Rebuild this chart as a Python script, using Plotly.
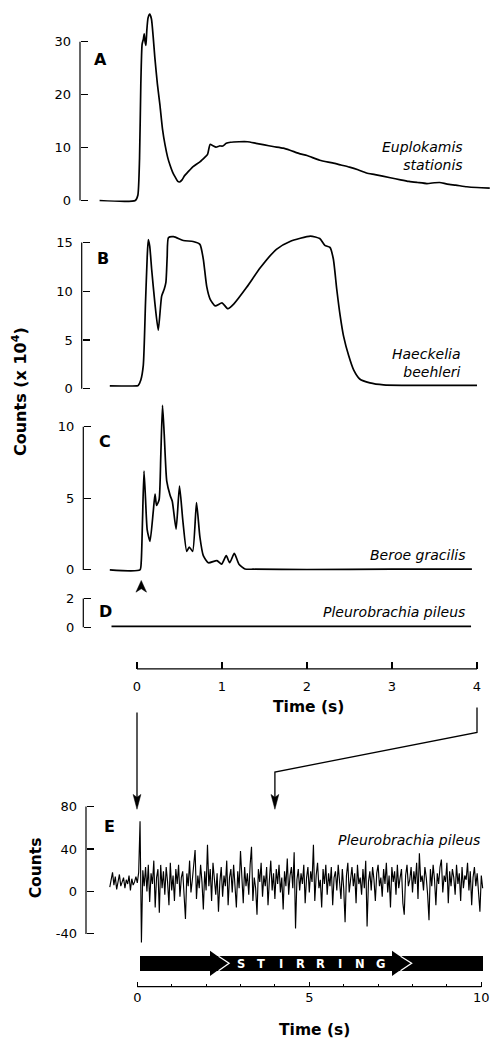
import numpy as np
import plotly.graph_objects as go

W, H = 491, 1042

# ---------------- data ----------------
a_t = [-0.44, -0.02, 0.01, 0.03, 0.045, 0.06, 0.075, 0.085, 0.095, 0.105, 0.115, 0.13, 0.15,
       0.17, 0.19, 0.21, 0.24, 0.27, 0.30, 0.33, 0.36, 0.39, 0.42, 0.45, 0.48, 0.50, 0.53,
       0.56, 0.60, 0.66, 0.74, 0.80, 0.83, 0.86, 0.89, 0.93, 0.97, 1.01, 1.05, 1.10, 1.20,
       1.30, 1.40, 1.50, 1.60, 1.72, 1.80, 1.92, 2.00, 2.15, 2.30, 2.40, 2.50, 2.60, 2.70,
       2.80, 2.98, 3.10, 3.20, 3.30, 3.41, 3.50, 3.56, 3.65, 3.75, 3.88, 4.00, 4.15]
a_v = [0.0, 0.0, 1.0, 8.0, 22.0, 29.5, 30.5, 31.5, 30.0, 29.3, 32.0, 34.5, 35.2,
       34.3, 31.0, 27.0, 22.0, 18.0, 13.5, 10.5, 8.2, 6.6, 5.3, 4.4, 3.6, 3.5, 3.9,
       4.7, 5.4, 6.4, 7.3, 8.2, 8.7, 10.6, 10.4, 10.1, 10.3, 10.3, 10.8, 11.0, 11.1,
       11.1, 10.8, 10.5, 10.2, 9.9, 9.5, 8.8, 8.5, 7.6, 7.1, 6.7, 6.3, 5.8, 5.2,
       4.9, 4.3, 3.9, 3.6, 3.4, 3.2, 3.35, 3.4, 3.1, 2.9, 2.6, 2.45, 2.35]

b_t = [-0.32, 0.00, 0.015, 0.045, 0.074, 0.10, 0.12, 0.133, 0.15, 0.173, 0.21, 0.25, 0.29,
       0.32, 0.34, 0.355, 0.37, 0.43, 0.545, 0.66, 0.74, 0.78, 0.82, 0.86, 0.92, 1.00,
       1.07, 1.14, 1.29, 1.45, 1.64, 1.80, 2.04, 2.15, 2.21, 2.27, 2.31, 2.35, 2.39, 2.43,
       2.49, 2.55, 2.62, 2.74, 2.90, 4.00]
b_v = [0.3, 0.3, 0.35, 0.9, 2.4, 8.8, 13.5, 15.3, 14.6, 12.2, 8.8, 6.0, 9.5,
       10.2, 10.9, 13.5, 15.5, 15.6, 15.2, 15.1, 14.8, 13.3, 10.5, 9.2, 8.5, 8.8,
       8.2, 8.7, 10.4, 12.4, 14.3, 15.1, 15.65, 15.4, 14.7, 14.5, 13.3, 10.2, 7.5, 5.4,
       3.4, 1.9, 1.0, 0.6, 0.4, 0.35]

c_t = [-0.32, 0.035, 0.05, 0.065, 0.082, 0.10, 0.12, 0.153, 0.19, 0.212, 0.23, 0.26, 0.28,
       0.30, 0.32, 0.35, 0.39, 0.415, 0.46, 0.50, 0.54, 0.585, 0.615, 0.655, 0.70, 0.74,
       0.78, 0.84, 0.94, 0.995, 1.05, 1.09, 1.145, 1.20, 1.27, 1.37, 2.00, 3.00, 3.94]
c_v = [0.0, 0.0, 0.6, 3.5, 6.9, 5.0, 2.8, 2.0, 4.0, 5.3, 4.5, 4.9, 8.0,
       11.5, 9.5, 6.2, 5.2, 4.8, 2.85, 5.85, 3.4, 1.3, 1.6, 1.3, 4.7, 2.3,
       1.0, 0.5, 0.65, 0.4, 1.0, 0.5, 1.15, 0.4, 0.07, 0.05, 0.03, 0.05, 0.05]

d_t = [-0.30, 0.50, 1.50, 2.50, 3.93]
d_v = [0.05, 0.06, 0.05, 0.06, 0.05]

e_t0 = -0.8
e_dt = 0.04
e_v = [4, 12, 18, 6, 14, 2, 10, 16, 5, 9,
       13, 3, 11, 7, 15, 1, 12, 6, 9, 14,
       8, 18, 66, -48, 20, 5, 23, 0, 25, -10,
       17, 7, 29, -15, 13, 21, -20, 25, 3, 19,
       -3, 23, 9, -13, 27, 1, 15, -9, 21, 7,
       25, -5, 13, 19, -11, -26, 17, 5, 29, -1,
       11, 23, 39, -7, 15, 3, 25, 9, -17, 19,
       1, 44, 5, 21, -9, 27, 7, -3, 17, -19,
       9, 23, -5, 15, 5, 29, -13, 13, 21, -1,
       25, 7, -15, 19, 3, 38, 11, -11, 23, 5,
       17, -3, 25, 42, -9, 13, 3, -22, 21, 9,
       27, -5, 15, 5, 23, -13, 11, 29, 1, 17,
       -7, 21, 7, 25, -1, 13, -17, 19, 5, 31,
       -3, 15, 23, 3, 37, -35, 11, 21, 1, 17,
       7, 25, -11, 13, 23, -1, 19, 9, 44, -9,
       15, 27, 3, 11, -15, 21, 7, 25, -3, 17,
       5, 23, -13, 13, 19, 1, 25, 9, -7, 21,
       3, -29, 15, 27, -1, 11, 23, 5, 17, -11,
       25, 7, 13, -3, 21, 3, 29, -33, 9, 19,
       1, 23, 11, -9, 17, 25, 5, 13, -5, 21,
       7, 27, -1, 15, -15, 23, 9, 19, -3, 25,
       3, 13, 21, -11, -22, 15, 25, 5, 11, 23,
       -1, 19, 7, 27, -7, 36, 9, 15, 1, 23,
       13, -3, -27, 21, 5, 25, 11, -13, 17, 7,
       23, 30, -1, 15, 9, 27, -11, 19, 5, 21,
       13, -3, 25, 7, 17, -9, 23, 3, 15, 11,
       27, 1, 19, -13, 13, 23, 5, 17, -3, -19,
       15, 3]
e_t = [e_t0 + e_dt * i for i in range(len(e_v))]

a_ticks = [0, 10, 20, 30]
b_ticks = [0, 5, 10, 15]
c_ticks = [0, 5, 10]
d_ticks = [0, 2]
e_ticks = [-40, 0, 40, 80]
e_ticktext = ["-40", "0", "40", "80"]
time_ticks = [0, 1, 2, 3, 4]
e_time_ticks = [0, 5, 10]
e_time_minor = [1, 2, 3, 4, 6, 7, 8, 9]

panel_letters = ["A", "B", "C", "D", "E"]
species = ["Euplokamis<br>stationis", "Haeckelia<br>beehleri", "Beroe gracilis",
           "Pleurobrachia pileus", "Pleurobrachia pileus"]
stir_letters = list("STIRRING")

# ---------------- helpers (pixel layout) ----------------
def py(p):
    return 1 - p / H

def pxx(p):
    return p / W

FONT = "DejaVu Sans"
tick_font = dict(family=FONT, size=13, color="black")


def yaxis_cfg(p_zero, p_ref, v_ref, p_top, p_bot, axis_px, ticks, ticktext=None):
    s = (p_zero - p_ref) / v_ref
    d = dict(domain=[py(p_bot), py(p_top)],
             range=[(p_zero - p_bot) / s, (p_zero - p_top) / s],
             anchor="free", position=axis_px / W,
             tickmode="array", tickvals=ticks,
             ticks="inside", ticklen=7, tickwidth=1.1, tickcolor="black",
             showline=False, showgrid=False, zeroline=False,
             tickfont=tick_font, ticklabelstandoff=9, fixedrange=True)
    if ticktext is not None:
        d["ticktext"] = ticktext
    return d


fig = go.Figure()
line_style = dict(color="black", width=1.7, shape="spline", smoothing=0.55)
fig.add_trace(go.Scatter(x=a_t, y=a_v, mode="lines", line=line_style, xaxis="x", yaxis="y"))
fig.add_trace(go.Scatter(x=b_t, y=b_v, mode="lines", line=line_style, xaxis="x", yaxis="y2"))
fig.add_trace(go.Scatter(x=c_t, y=c_v, mode="lines", line=line_style, xaxis="x", yaxis="y3"))
fig.add_trace(go.Scatter(x=d_t, y=d_v, mode="lines", line=dict(color="black", width=1.7),
                         xaxis="x", yaxis="y4"))
fig.add_trace(go.Scatter(x=e_t, y=e_v, mode="lines", line=dict(color="black", width=1.15),
                         xaxis="x2", yaxis="y5"))

# axis pixel geometry
AX = dict(A=80, B=81.7, C=83.3, D=83.3, E=86)
T_Y = 669          # top time axis line
E_Y = 989.3        # bottom time axis line
T0, TS = 137, 85   # top axis: px of t=0, px per second
E0, ES = 137.3, 34.4

layout = dict(
    width=W, height=H, margin=dict(l=0, r=0, t=0, b=0),
    paper_bgcolor="white", plot_bgcolor="rgba(0,0,0,0)", showlegend=False,
    xaxis=dict(domain=[0, 1], range=[-T0 / TS, (W - T0) / TS], anchor="free",
               position=py(T_Y), tickmode="array", tickvals=time_ticks,
               ticks="inside", ticklen=7, tickwidth=1.1, tickcolor="black",
               showline=False, showgrid=False, zeroline=False, tickfont=tick_font,
               ticklabelstandoff=8, fixedrange=True),
    xaxis2=dict(domain=[0, 1], range=[-E0 / ES, (W - E0) / ES], anchor="free",
                position=py(E_Y), tickmode="array", tickvals=e_time_ticks,
                ticks="inside", ticklen=5, tickwidth=1.1, tickcolor="black",
                minor=dict(tickmode="array", tickvals=e_time_minor, ticks="inside",
                           ticklen=3, tickwidth=1, tickcolor="black", showgrid=False),
                showline=False, showgrid=False, zeroline=False, tickfont=tick_font,
                ticklabelstandoff=1, fixedrange=True),
    yaxis=yaxis_cfg(197, 37, 30, 3, 205, AX["A"], a_ticks),
    yaxis2=yaxis_cfg(386.7, 239.3, 15, 228, 392, AX["B"], b_ticks),
    yaxis3=yaxis_cfg(569.3, 425, 10, 395, 575, AX["C"], c_ticks),
    yaxis4=yaxis_cfg(627, 598, 2, 596, 632, AX["D"], d_ticks),
    yaxis5=yaxis_cfg(893.3, 807.7, 80, 790, 985, AX["E"], e_ticks, e_ticktext),
)
fig.update_layout(**layout)

shapes = []
axl = dict(color="black", width=1.2)
# y axis lines spanning only the tick range
for yref, x_px, tk in [("y", AX["A"], a_ticks), ("y2", AX["B"], b_ticks),
                       ("y3", AX["C"], c_ticks), ("y4", AX["D"], d_ticks),
                       ("y5", AX["E"], e_ticks)]:
    shapes.append(dict(type="line", xref="paper", yref=yref, x0=x_px / W, x1=x_px / W,
                       y0=min(tk), y1=max(tk), line=axl))
# x axis lines
shapes.append(dict(type="line", xref="x", yref="paper", x0=min(time_ticks), x1=max(time_ticks),
                   y0=py(T_Y), y1=py(T_Y), line=axl))
shapes.append(dict(type="line", xref="x2", yref="paper", x0=min(e_time_ticks), x1=max(e_time_ticks),
                   y0=py(E_Y), y1=py(E_Y), line=axl))


def ppath(pts, close=True):
    s = "M " + " L ".join(f"{pxx(x):.5f},{py(y):.5f}" for x, y in pts)
    return s + (" Z" if close else "")

# connector arrows from top time axis to panel E
conn = dict(color="black", width=1.3)
x_a = T0 + TS * 0
x_b = T0 + TS * 4
x_e4 = E0 + ES * 4
shapes.append(dict(type="path", xref="paper", yref="paper",
                   path=ppath([(x_a, 713), (x_a, 800)], close=False), line=conn))
shapes.append(dict(type="path", xref="paper", yref="paper",
                   path=ppath([(x_b, 708), (x_b, 733), (x_e4, 773), (x_e4, 800)], close=False),
                   line=conn))
for xx in (x_a, x_e4):
    shapes.append(dict(type="path", xref="paper", yref="paper",
                       path=ppath([(xx - 3.9, 795.5), (xx, 798.5), (xx + 3.9, 795.5), (xx, 810.5)]),
                       fillcolor="black", line=dict(color="black", width=0.5)))
# stimulus arrowhead under panel C
xs = T0 + TS * 0.05
shapes.append(dict(type="path", xref="paper", yref="paper",
                   path=ppath([(xs - 5.3, 591.7), (xs, 580), (xs + 5.3, 591.7), (xs, 588.3)]),
                   fillcolor="black", line=dict(color="black", width=0.5)))

# STIRRING bar
shapes.append(dict(type="rect", xref="paper", yref="paper", x0=pxx(140), x1=pxx(483),
                   y0=py(973.5), y1=py(958.3), fillcolor="black", line=dict(width=0)))
for hx, tip in ((210, 227.5), (392, 410)):
    shapes.append(dict(type="path", xref="paper", yref="paper",
                       path=ppath([(hx, 953), (tip, 965.7), (hx, 978.5)]),
                       fillcolor="black", line=dict(width=0)))
    shapes.append(dict(type="path", xref="paper", yref="paper",
                       path=ppath([(hx + 8.5, 958.6), (tip + 1.6, 965.7), (hx + 8.5, 973.2)], close=False),
                       line=dict(color="white", width=1.3)))

fig.update_layout(shapes=shapes)

ann = []
# panel letters
for lab, (x, y) in zip(panel_letters, [(100.8, 55.2), (102.8, 255.8), (105, 439.5),
                                      (105.5, 611), (109.5, 828)]):
    ann.append(dict(text=f"<b>{lab}</b>", x=pxx(x), y=py(y), xref="paper", yref="paper",
                    showarrow=False, xanchor="center", yanchor="middle",
                    font=dict(family=FONT, size=16, color="black")))
# species names
for lab, (x, y) in zip(species, [(464.5, 152.5), (462.5, 361), (467, 554),
                                 (467, 611.5), (481.5, 841.7)]):
    ann.append(dict(text=f"<i>{lab}</i>", x=pxx(x), y=py(y), xref="paper", yref="paper",
                    showarrow=False, xanchor="right", yanchor="middle", align="right",
                    font=dict(family=FONT, size=14, color="black")))
# axis titles
title_font = dict(family=FONT, size=15.5, color="black")
ann.append(dict(text="<b>Counts (x 10<sup>4</sup>)</b>", x=pxx(19), y=py(390), xref="paper",
                yref="paper", showarrow=False, textangle=-90, xanchor="center",
                yanchor="middle", font=dict(family=FONT, size=16, color="black")))
ann.append(dict(text="<b>Counts</b>", x=pxx(36), y=py(870), xref="paper", yref="paper",
                showarrow=False, textangle=-90, xanchor="center", yanchor="middle",
                font=title_font))
ann.append(dict(text="<b>Time (s)</b>", x=pxx(308), y=py(707.5), xref="paper", yref="paper",
                showarrow=False, xanchor="center", yanchor="middle", font=title_font))
ann.append(dict(text="<b>Time (s)</b>", x=pxx(314), y=py(1032.5), xref="paper", yref="paper",
                showarrow=False, xanchor="center", yanchor="middle", font=title_font))
# STIRRING lettering
for k, ch in enumerate(stir_letters):
    xc = 241 + k * (380 - 241) / (len(stir_letters) - 1)
    ann.append(dict(text=f"<b>{ch}</b>", x=pxx(xc), y=py(966), xref="paper", yref="paper",
                    showarrow=False, xanchor="center", yanchor="middle",
                    font=dict(family=FONT, size=11.5, color="white")))
fig.update_layout(annotations=ann)

fig.write_html("out.html", config=dict(displayModeBar=False, staticPlot=True),
               post_script="document.body.style.margin='0';document.body.style.overflow='hidden';")
